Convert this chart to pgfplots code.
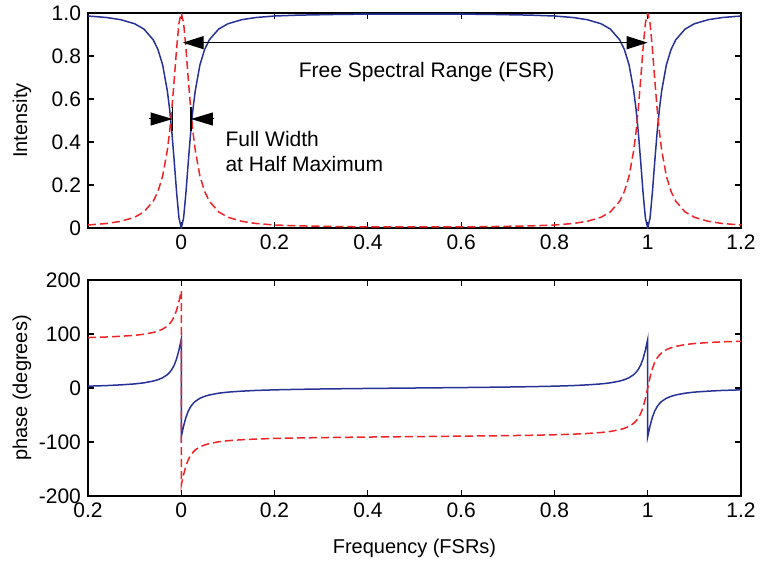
\documentclass[border=0pt]{standalone}
\usepackage{fontspec}
\setmainfont{Liberation Sans}
\usepackage{pgfplots}
\pgfplotsset{compat=1.18}
\usepackage{pgfplotstable}
\usetikzlibrary{arrows.meta}

\definecolor{lineblue}{RGB}{40,50,150}
\definecolor{linered}{RGB}{238,36,40}

% intensity: x, through port (blue), drop port (red)
\pgfplotstableread{
x blue red
-0.2 0.986 0.014
-0.16 0.979 0.021
-0.13 0.969 0.031
-0.1 0.950 0.050
-0.08 0.925 0.075
-0.06 0.875 0.125
-0.05 0.830 0.170
-0.04 0.759 0.241
-0.03 0.639 0.361
-0.025 0.552 0.448
-0.02 0.441 0.559
-0.015 0.307 0.693
-0.01 0.165 0.835
-0.005 0.047 0.953
0 0 1
0.005 0.047 0.953
0.01 0.165 0.835
0.015 0.307 0.693
0.02 0.441 0.559
0.025 0.552 0.448
0.03 0.639 0.361
0.04 0.759 0.241
0.05 0.830 0.170
0.06 0.875 0.125
0.08 0.925 0.075
0.1 0.950 0.050
0.13 0.969 0.031
0.16 0.979 0.021
0.2 0.986 0.014
0.25 0.990 0.010
0.3 0.992 0.008
0.35 0.994 0.006
0.4 0.9945 0.0055
0.45 0.995 0.005
0.5 0.995 0.005
0.55 0.995 0.005
0.6 0.9945 0.0055
0.65 0.994 0.006
0.7 0.992 0.008
0.75 0.990 0.010
0.8 0.986 0.014
0.84 0.979 0.021
0.87 0.969 0.031
0.9 0.950 0.050
0.92 0.925 0.075
0.94 0.875 0.125
0.95 0.830 0.170
0.96 0.759 0.241
0.97 0.639 0.361
0.975 0.552 0.448
0.98 0.441 0.559
0.985 0.307 0.693
0.99 0.165 0.835
0.995 0.047 0.953
1 0 1
1.005 0.047 0.953
1.01 0.165 0.835
1.015 0.307 0.693
1.02 0.441 0.559
1.025 0.552 0.448
1.03 0.639 0.361
1.04 0.759 0.241
1.05 0.830 0.170
1.06 0.875 0.125
1.08 0.925 0.075
1.1 0.950 0.050
1.13 0.969 0.031
1.16 0.979 0.021
1.2 0.986 0.014
}\intensity

% phase in degrees: x, blue, red
\pgfplotstableread{
x blue red
-0.2 3.4 93.4
-0.16 4.5 94.5
-0.13 5.8 95.8
-0.1 7.6 97.6
-0.08 9.6 99.6
-0.06 12.9 102.9
-0.05 15.4 105.4
-0.04 19.0 109.0
-0.03 24.7 114.7
-0.025 29.0 119.0
-0.02 34.7 124.7
-0.015 42.7 132.7
-0.01 54.2 144.2
-0.005 70.2 160.2
0 90 180
0 -90 -180
0.005 -70.2 -160.2
0.01 -54.2 -144.2
0.015 -42.7 -132.7
0.02 -34.7 -124.7
0.025 -29.0 -119.0
0.03 -24.7 -114.7
0.04 -19.0 -109.0
0.05 -15.4 -105.4
0.06 -12.9 -102.9
0.08 -9.6 -99.6
0.1 -7.6 -97.6
0.13 -5.8 -95.8
0.16 -4.5 -94.5
0.2 -3.4 -93.4
0.25 -2.5 -92.5
0.3 -1.8 -91.8
0.35 -1.3 -91.3
0.4 -0.8 -90.8
0.45 -0.4 -90.4
0.5 0 -90
0.55 0.4 -89.6
0.6 0.8 -89.2
0.65 1.3 -88.7
0.7 1.8 -88.2
0.75 2.5 -87.5
0.8 3.4 -86.6
0.84 4.5 -85.5
0.87 5.8 -84.2
0.9 7.6 -82.4
0.92 9.6 -80.4
0.94 12.9 -77.1
0.95 15.4 -74.6
0.96 19.0 -71.0
0.97 24.7 -65.3
0.975 29.0 -61.0
0.98 34.7 -55.3
0.985 42.7 -47.3
0.99 54.2 -35.8
0.995 70.2 -19.8
1 90 0
1 -90 0
1.005 -70.2 19.8
1.01 -54.2 35.8
1.015 -42.7 47.3
1.02 -34.7 55.3
1.025 -29.0 61.0
1.03 -24.7 65.3
1.04 -19.0 71.0
1.05 -15.4 74.6
1.06 -12.9 77.1
1.08 -9.6 80.4
1.1 -7.6 82.4
1.13 -5.8 84.2
1.16 -4.5 85.5
1.2 -3.4 86.6
}\phase

\pgfplotsset{
  fsr/.style={
    scale only axis, width=326.5pt,
    xmin=-0.2, xmax=1.2,
    xtick={-0.2,0,0.2,0.4,0.6,0.8,1,1.2},
    tick align=inside, major tick length=3pt,
    axis line style={line width=0.8pt},
    tick style={line width=0.6pt, black},
    ticklabel style={font=\fontsize{10.5}{12}\selectfont},
    label style={font=\fontsize{10.5}{12}\selectfont},
    every axis y label/.style={at={(axis description cs:-0.101,0.5)}, rotate=90, anchor=center},
  },
  blueline/.style={color=lineblue, line width=0.75pt},
  redline/.style={color=linered, line width=0.75pt, dash pattern=on 4pt off 2pt},
}

\begin{document}
\begin{tikzpicture}
\begin{axis}[fsr, at={(0pt,0pt)}, anchor=south west, height=107.5pt,
  ymin=0, ymax=1,
  ytick={0,0.2,0.4,0.6,0.8,1},
  yticklabels={0,0.2,0.4,0.6,0.8,1.0},
  xticklabels={{},0,0.2,0.4,0.6,0.8,1,1.2},
  ylabel={Intensity},
]
\addplot[blueline] table[x=x, y=blue] {\intensity};
\addplot[redline] table[x=x, y=red] {\intensity};
% free spectral range
\draw[line width=0.6pt, {Triangle[length=10.5pt,width=6.5pt]}-{Triangle[length=10.5pt,width=6.5pt]}]
  (axis cs:0.003,0.862) -- (axis cs:1.0,0.862);
\node[anchor=base, inner sep=0pt, font=\fontsize{10.5}{12}\selectfont] at (axis cs:0.526,0.70) {Free Spectral Range (FSR)};
% full width at half maximum
\draw[line width=0.9pt] (axis cs:-0.0187,0.451) -- (axis cs:-0.0187,0.563);
\draw[line width=0.9pt] (axis cs:0.0208,0.451) -- (axis cs:0.0208,0.563);
\draw[line width=0.5pt, -{Triangle[length=11pt,width=6.5pt]}] (axis cs:-0.0687,0.507) -- (axis cs:-0.0187,0.507);
\draw[line width=0.5pt, -{Triangle[length=11pt,width=6.5pt]}] (axis cs:0.0708,0.507) -- (axis cs:0.0208,0.507);
\node[anchor=base west, inner sep=0pt, font=\fontsize{10.5}{12}\selectfont] at (axis cs:0.094,0.381) {Full Width};
\node[anchor=base west, inner sep=0pt, font=\fontsize{10.5}{12}\selectfont] at (axis cs:0.094,0.262) {at Half Maximum};
\end{axis}

\begin{axis}[fsr, at={(0pt,-134pt)}, anchor=south west, height=108pt,
  ymin=-200, ymax=200,
  ytick={-200,-100,0,100,200},
  yticklabels={-200,-100,0,100,200},
  xticklabels={0.2,0,0.2,0.4,0.6,0.8,1,1.2},
  ylabel={phase (degrees)},
  xlabel={Frequency (FSRs)},
  every axis x label/.style={at={(axis description cs:0.5,-0.241)}, anchor=center},
]
\addplot[blueline] table[x=x, y=blue] {\phase};
\addplot[redline] table[x=x, y=red] {\phase};
\end{axis}

\pgfresetboundingbox
\path[use as bounding box] (-44pt,-170pt) rectangle (336pt,114pt);
\end{tikzpicture}
\end{document}
